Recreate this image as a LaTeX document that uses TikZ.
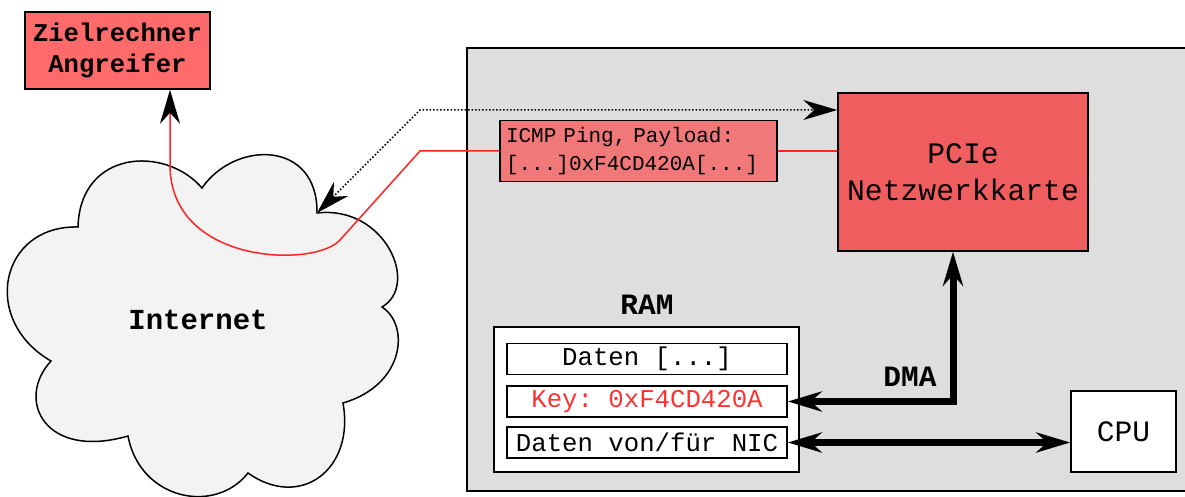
\documentclass[tikz,border=0pt]{standalone}
\usepackage{fontspec}
\setmonofont{Liberation Mono}
\usetikzlibrary{arrows.meta}

\definecolor{attacker}{RGB}{255,106,106}
\definecolor{nicred}{RGB}{240,93,94}
\definecolor{packet}{RGB}{240,120,120}
\definecolor{hostgray}{RGB}{222,222,222}
\definecolor{cloudgray}{RGB}{243,243,243}
\definecolor{keyred}{RGB}{255,50,50}
\definecolor{wire}{RGB}{255,36,36}

\begin{document}
\begin{tikzpicture}[x=1pt,y=-1pt,>={Stealth[length=34pt,width=20pt,inset=11pt]},
    box/.style={draw,line width=1.5pt,inner sep=0pt,align=center},
    cell/.style={box,fill=white,minimum width=280pt,minimum height=31pt,
        font=\ttfamily\fontsize{25.7}{30}\selectfont},
    tag/.style={font=\ttfamily\bfseries\fontsize{29.5}{35}\selectfont},
    bus/.style={line width=7pt,<->}]
    \useasboundingbox (0,0) rectangle (1185,497);

    % the victim host
    \draw[line width=1.5pt,fill=hostgray] (467,48) rectangle (1200,491);

    % the internet cloud, one curve per puff
    \draw[line width=1.5pt,fill=cloudgray] (78,227)
        .. controls (80,150) and (165,145) .. (202,188)
        .. controls (235,140) and (318,140) .. (317,213)
        .. controls (385,205) and (420,285) .. (382,307)
        .. controls (410,325) and (405,385) .. (343,403)
        .. controls (355,470) and (300,510) .. (248,473)
        .. controls (215,515) and (140,500) .. (128,436)
        .. controls (45,460) and (15,400) .. (51,361)
        .. controls (-20,320) and (0,225) .. (78,227) -- cycle;
    \node[font=\ttfamily\bfseries\fontsize{29}{35}\selectfont] (net) at (198,320) {Internet};
    \coordinate (inlet) at (317,213);

    % attacker
    \node[box,fill=attacker,minimum width=185pt,minimum height=77pt,
        font=\ttfamily\bfseries\fontsize{25.6}{31}\selectfont] (ziel) at (117.5,50.5) {Zielrechner\\Angreifer};

    % network card and the ping packet
    \node[box,fill=nicred,minimum width=250pt,minimum height=158pt,
        font=\ttfamily\fontsize{29.7}{37}\selectfont] (nic) at (963,172) {PCIe\\Netzwerkkarte};
    \node[box,fill=packet,text width=265pt,inner xsep=6pt,minimum height=61pt,align=left,
        font=\ttfamily\fontsize{21}{28}\selectfont] (ping) at (638.5,151) {ICMP Ping, Payload:\\{}[...]0xF4CD420A[...]};

    % main memory
    \node[tag] (ramtitle) at (647,305) {RAM};
    \node[box,fill=white,minimum width=305pt,minimum height=145pt] (ram) at (646.5,399.5) {};
    \node[cell] (dat) at (647,359) {Daten [...]};
    \node[cell,text=keyred] (key) at (647,401.5) {Key: 0xF4CD420A};
    \node[cell] (buf) at (647,442.5) {Daten von/für NIC};

    \node[tag] (dmatitle) at (910,377) {DMA};
    \node[box,fill=white,minimum width=105pt,minimum height=81pt,
        font=\ttfamily\fontsize{29.6}{35}\selectfont] (cpu) at (1123.5,431.5) {CPU};

    % request from the attacker to the card
    \draw[dotted,line width=1.5pt,<->] (inlet) -- (420,110) -- ([yshift=62]nic.west);

    % reply carrying the key back out
    \draw[wire,line width=1.5pt] (nic.west |- ping.east) -- (ping.east);
    \draw[wire,line width=1.5pt,-{Stealth[length=34pt,width=20pt,inset=11pt,color=black]}]
        (ping.west) -- (420,151) -- (340,240)
        .. controls (315,268) and (170,265) .. (170,165) -- ([xshift=52.5]ziel.south);

    % memory buses
    \draw[bus] ([xshift=-10]nic.south) |- (key.east);
    \draw[bus] (buf.east) -- (buf.east -| cpu.west);
\end{tikzpicture}
\end{document}
